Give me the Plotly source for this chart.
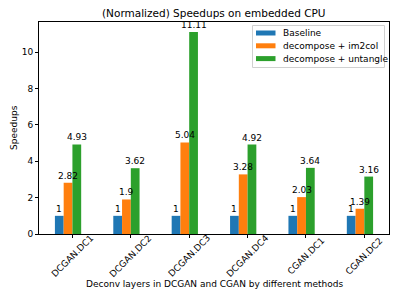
import plotly.graph_objects as go

categories = ["DCGAN.DC1", "DCGAN.DC2", "DCGAN.DC3", "DCGAN.DC4", "CGAN.DC1", "CGAN.DC2"]
baseline = [1, 1, 1, 1, 1, 1]
im2col = [2.82, 1.9, 5.04, 3.28, 2.03, 1.39]
untangle = [4.93, 3.62, 11.11, 4.92, 3.64, 3.16]

series = [
    ("Baseline", baseline, "#1f77b4", -0.3),
    ("decompose + im2col", im2col, "#ff7f0e", -0.15),
    ("decompose + untangle", untangle, "#2ca02c", 0.0),
]
width = 0.15
FONT = "DejaVu Sans"
idx = list(range(len(categories)))

# plot area in pixels
L, R, T, B = 39, 389, 22, 234
W, H = R - L, B - T
def px(x):
    return (x - L) / W
def py(y):
    return (B - y) / H

fig = go.Figure()
for name, vals, color, off in series:
    fig.add_trace(go.Bar(
        x=idx, y=vals, name=name, width=width, offset=off,
        marker=dict(color=color, line=dict(width=0)),
        showlegend=False, hoverinfo="skip",
    ))

# value labels on top of all bars
for name, vals, color, off in series:
    for i, v in zip(idx, vals):
        fig.add_annotation(x=i + off + width / 2, y=v, xref="x", yref="y", text=f"{v:g}",
                           showarrow=False, xanchor="center", yanchor="bottom", yshift=0,
                           font=dict(family=FONT, size=9, color="#000000"))

# rotated category labels
for i, c in enumerate(categories):
    fig.add_annotation(x=i, y=0, xref="x", yref="paper", text=c, showarrow=False,
                       textangle=-45, xanchor="center", yanchor="middle", yshift=-22,
                       font=dict(family=FONT, size=9, color="#000000"))

# axis titles and chart title
fig.add_annotation(x=0.5, y=py(284), xref="paper", yref="paper", yanchor="middle",
                   text="Deconv layers in DCGAN and CGAN by different methods", showarrow=False,
                   font=dict(family=FONT, size=9, color="#000000"))
fig.add_annotation(x=px(14), y=0.5, xref="paper", yref="paper", xanchor="center", textangle=-90,
                   text="Speedups", showarrow=False,
                   font=dict(family=FONT, size=9, color="#000000"))
fig.add_annotation(x=0.5, y=py(13), xref="paper", yref="paper", yanchor="middle",
                   text="(Normalized) Speedups on embedded CPU", showarrow=False,
                   font=dict(family=FONT, size=10.5, color="#000000"))

# legend drawn manually
shapes = [dict(type="rect", xref="paper", yref="paper", x0=px(252.5), x1=px(384.5),
               y0=py(67.5), y1=py(25.5), line=dict(color="#d0d0d0", width=1),
               fillcolor="rgba(255,255,255,0.8)", layer="above")]
fig.update_layout(shapes=shapes)
for k, (name, vals, color, off) in enumerate(series):
    cy = 33 + k * 12.8
    fig.add_shape(type="rect", xref="paper", yref="paper", x0=px(256), x1=px(275.5),
                  y0=py(cy + 2.5), y1=py(cy - 2.5), line=dict(width=0), fillcolor=color,
                  layer="above")
    fig.add_annotation(x=px(280.5), y=py(cy), xref="paper", yref="paper", xanchor="left",
                       yanchor="middle", text=name, showarrow=False,
                       font=dict(family=FONT, size=9, color="#000000"))

ymax = max(untangle) * 1.05
fig.update_layout(
    width=399, height=299,
    margin=dict(l=L, r=399 - R, t=T, b=299 - B, autoexpand=False),
    barmode="overlay",
    showlegend=False,
    hovermode=False,
    paper_bgcolor="white", plot_bgcolor="white",
    font=dict(family=FONT, size=9, color="#000000"),
    xaxis=dict(range=[-0.5725, 5.4225], tickvals=idx, showticklabels=False, automargin=False,
               ticks="outside", ticklen=3, tickcolor="black", showgrid=False, zeroline=False,
               showline=True, mirror=True, linecolor="black", linewidth=1),
    yaxis=dict(range=[0, ymax], tickvals=[0, 2, 4, 6, 8, 10], ticks="outside", ticklen=3,
               tickcolor="black", showgrid=False, zeroline=False, automargin=False,
               showline=True, mirror=True, linecolor="black", linewidth=1,
               tickfont=dict(size=9)),
)
fig.write_html("out.html", config={"displayModeBar": False, "staticPlot": True},
               post_script="document.body.style.margin='0';document.body.style.padding='0';")
